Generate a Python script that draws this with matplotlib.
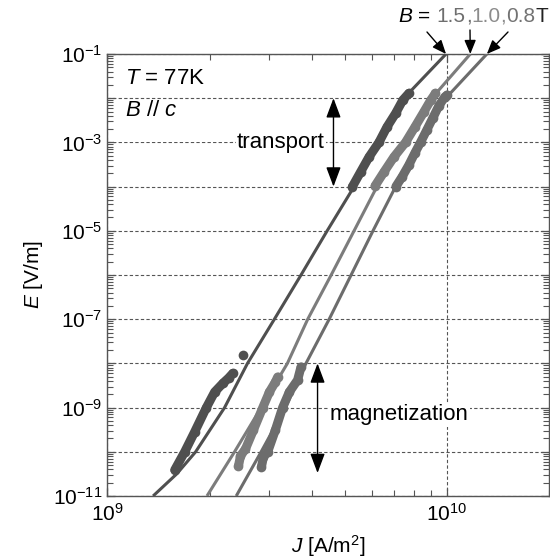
import numpy as np
import matplotlib
matplotlib.use('Agg')
import matplotlib.pyplot as plt
from matplotlib.ticker import LogLocator, FuncFormatter, NullFormatter
from matplotlib.patches import Rectangle

plt.rcParams['font.family'] = ['Liberation Sans', 'DejaVu Sans']
plt.rcParams['mathtext.fontset'] = 'custom'
plt.rcParams['mathtext.rm'] = 'Liberation Sans'
plt.rcParams['mathtext.it'] = 'Liberation Sans:italic'

# fitted E-J curves, J in 1e9 A/m2, E as log10(V/m)
j15_line = [1.364, 1.601, 1.820, 2.214, 2.586, 3.103, 3.717, 4.438, 5.326, 6.347, 7.464, 9.933]
e15_line = [-11, -10.5, -10, -9, -8, -7, -6, -5, -4, -3, -2, -1]
j10_line = [1.965, 2.369, 2.837, 3.389, 3.890, 4.560, 5.326, 6.220, 7.464, 9.019, 11.71]
e10_line = [-11, -10, -9, -8, -7, -6, -5, -4, -3, -2, -1]
j08_line = [2.396, 2.837, 3.342, 3.844, 4.499, 5.220, 6.055, 7.058, 8.356, 9.913, 13.10]
e08_line = [-11, -10, -9, -8, -7, -6, -5, -4, -3, -2, -1]

# transport measurements
j15_tr = [5.265, 5.572, 5.894, 6.305, 6.655, 7.058, 7.414, 7.721]
e15_tr = [-4.002, -3.663, -3.330, -2.998, -2.652, -2.342, -2.041, -1.889]
j10_tr = [6.137, 6.522, 6.977, 7.551, 8.042, 8.545, 8.960, 9.247]
e10_tr = [-3.986, -3.670, -3.330, -2.998, -2.652, -2.312, -2.041, -1.889]
j08_tr = [7.072, 7.379, 7.721, 8.042, 8.356, 8.719, 9.082, 9.456, 9.847, 10.0]
e08_tr = [-3.998, -3.776, -3.511, -3.240, -2.998, -2.719, -2.448, -2.176, -1.973, -1.928]

# magnetization measurements
j15_mg = [1.579, 1.690, 1.807, 1.957, 2.070, 2.189, 2.275, 2.342]
e15_mg = [-10.412, -10.0, -9.552, -9.0, -8.647, -8.450, -8.330, -8.224]
j15_out = [2.505]
e15_out = [-7.810]
j10_mg = [2.433, 2.466, 2.551, 2.693, 2.868, 3.000, 3.124, 3.173]
e10_mg = [-10.321, -10.095, -9.937, -9.507, -9.0, -8.647, -8.421, -8.308]
j08_mg = [2.842, 2.881, 2.966, 3.124, 3.281, 3.434, 3.632, 3.717]
e08_mg = [-10.344, -10.118, -10.0, -9.507, -9.0, -8.647, -8.376, -8.081]

c15 = '#4f4f4f'
c10 = '#7c7c7c'
c08 = '#6c6c6c'


def J(v):
    return np.array(v) * 1e9


def E(v):
    return 10.0 ** np.array(v)


fig = plt.figure(figsize=(5.5, 5.59), dpi=100)
ax = fig.add_axes([0.1951, 0.1127, 0.8036, 0.7907])
ax.set_xscale('log')
ax.set_yscale('log')
ax.set_xlim(1e9, 2e10)
ax.set_ylim(1e-11, 1e-1)

for jl, el, c in [(j15_line, e15_line, c15), (j10_line, e10_line, c10), (j08_line, e08_line, c08)]:
    ax.plot(J(jl), E(el), color=c, lw=2.2, zorder=4, solid_capstyle='butt', solid_joinstyle='round')

for jj, ee, c in [(j15_tr, e15_tr, c15), (j10_tr, e10_tr, c10), (j08_tr, e08_tr, c08),
                  (j15_mg, e15_mg, c15), (j10_mg, e10_mg, c10), (j08_mg, e08_mg, c08)]:
    ax.plot(J(jj), E(ee), color=c, lw=6.5, marker='o', ms=7, mec=c, mfc=c, mew=0,
            solid_capstyle='round', solid_joinstyle='round', zorder=5)
ax.plot(J(j15_out), E(e15_out), ls='none', marker='o', ms=7, color=c15, mew=0, zorder=5)

# ticks
ax.yaxis.set_major_locator(LogLocator(base=10, numticks=20))
ax.yaxis.set_minor_locator(LogLocator(base=10, subs=np.arange(2, 10), numticks=20))
ax.yaxis.set_major_formatter(FuncFormatter(
    lambda v, p: r'$\mathregular{10^{%d}}$' % round(np.log10(v)) if round(np.log10(v)) % 2 else ''))
ax.yaxis.set_minor_formatter(NullFormatter())
ax.xaxis.set_major_locator(LogLocator(base=10, numticks=20))
ax.xaxis.set_minor_locator(LogLocator(base=10, subs=np.arange(2, 10), numticks=20))
ax.xaxis.set_major_formatter(FuncFormatter(lambda v, p: r'$\mathregular{10^{%d}}$' % round(np.log10(v))))
ax.xaxis.set_minor_formatter(NullFormatter())
ax.tick_params(which='both', direction='in', top=True, right=True, color='#555555', labelsize=15)
ax.tick_params(which='major', length=6, width=0.9)
ax.tick_params(which='minor', length=4, width=0.8)
ax.tick_params(axis='x', pad=5)
for s in ax.spines.values():
    s.set_color('#555555')
    s.set_linewidth(1.0)

ax.grid(True, which='major', ls=(0, (3, 2)), color='#555555', lw=0.8)

ax.set_xlabel(r'$J$ [A/m$^2$]', fontsize=15, labelpad=6)
ax.set_ylabel(r'$E$ [V/m]', fontsize=15, labelpad=6)

# white area behind the condition text
ax.add_patch(Rectangle((0.015, 0.80), 0.265, 0.095, transform=ax.transAxes,
                       facecolor='white', edgecolor='none', zorder=3))
ax.text(1.127e9, 10 ** -1.543, r'$T$ = 77K', fontsize=16, va='center', ha='left', zorder=4)
ax.text(1.127e9, 10 ** -2.267, r'$B$ // $c$', fontsize=16, va='center', ha='left', zorder=4)

ax.text(3.246e9, 1e-3, 'transport', fontsize=16, ha='center', va='center', zorder=4,
        bbox=dict(facecolor='white', edgecolor='none', pad=1))
ax.text(7.217e9, 10 ** -9.167, 'magnetization', fontsize=16, ha='center', va='center', zorder=4,
        bbox=dict(facecolor='white', edgecolor='none', pad=1))

ax.annotate('', xy=(4.632e9, 1e-2), xytext=(4.632e9, 1e-4),
            arrowprops=dict(arrowstyle='<|-|>,head_length=0.8,head_width=0.3', color='k', lw=1,
                            mutation_scale=15, shrinkA=0, shrinkB=0), zorder=6)
ax.annotate('', xy=(4.158e9, 1e-8), xytext=(4.158e9, 10 ** -10.48),
            arrowprops=dict(arrowstyle='<|-|>,head_length=0.8,head_width=0.3', color='k', lw=1,
                            mutation_scale=15, shrinkA=0, shrinkB=0), zorder=6)

# field label with coloured values
pieces = [(r'$B$ =', 'black', 6), ('1.5', '#6e6e6e', 0), (',', '#6e6e6e', 0), ('1.0', '#8c8c8c', 0),
          (',', '#8c8c8c', 0), ('0.8', '#737373', 0), ('T', '#222222', 0)]
fig.canvas.draw()
r = fig.canvas.get_renderer()
xpix = 398
for txt, col, gap in pieces:
    t = fig.text(xpix / 550, 1 - 22 / 559, txt, color=col, fontsize=15, ha='left', va='baseline')
    xpix += t.get_window_extent(r).width + gap

tails = [(427, 559 - 32), (470, 559 - 30), (508, 559 - 32)]
for jl, tail in zip([j15_line, j10_line, j08_line], tails):
    ax.annotate('', xy=(jl[-1] * 1e9, 1e-1), xytext=tail, textcoords='figure pixels',
                arrowprops=dict(arrowstyle='-|>,head_length=0.6,head_width=0.25', color='k', lw=1,
                                mutation_scale=14, shrinkA=0, shrinkB=0),
                annotation_clip=False, zorder=6)

fig.savefig('out.png', dpi=100)
